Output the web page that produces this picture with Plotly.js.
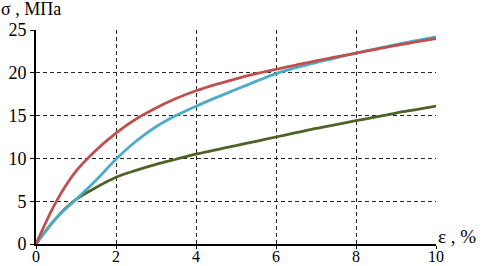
<!DOCTYPE html>
<html>
<head>
<meta charset="utf-8">
<script src="https://cdn.plot.ly/plotly-3.0.1.min.js"></script>
<style>
html,body{margin:0;padding:0;background:#fff;}
#chart{width:486px;height:266px;}
</style>
</head>
<body>
<div id="chart"></div>
<script>
const strain    = [0, 0.5, 1, 1.5, 2, 2.5, 3, 3.5, 4, 4.5, 5, 5.5, 6, 6.5, 7, 7.5, 8, 8.5, 9, 9.5, 10];
const stressRed   = [0, 4.9, 8.5, 10.95, 12.95, 14.6, 15.9, 17.0, 17.9, 18.65, 19.3, 19.9, 20.4, 20.9, 21.4, 21.85, 22.3, 22.75, 23.2, 23.6, 24.0];
const stressCyan  = [0, 3.0, 5.2, 7.45, 9.9, 12.0, 13.7, 15.0, 16.1, 17.1, 18.05, 19.0, 19.9, 20.6, 21.2, 21.75, 22.3, 22.8, 23.3, 23.75, 24.2];
const stressGreen = [0, 3.0, 5.2, 6.6, 7.8, 8.6, 9.3, 9.9, 10.5, 11.0, 11.5, 12.0, 12.5, 13.0, 13.5, 13.95, 14.4, 14.85, 15.3, 15.7, 16.1];
const xTicks = [0, 2, 4, 6, 8, 10];
const yTicks = [0, 5, 10, 15, 20, 25];

const fam = '"Liberation Serif", "Times New Roman", serif';
const font = {family: fam, size: 18, color: '#000'};
const traces = [
  {x: strain, y: stressGreen, mode: 'lines', line: {color: '#4f6228', width: 2.8, shape: 'spline'}},
  {x: strain, y: stressCyan, mode: 'lines', line: {color: '#4bacc6', width: 2.8, shape: 'spline'}},
  {x: strain, y: stressRed, mode: 'lines', line: {color: '#c0504d', width: 2.8, shape: 'spline'}}
];
const layout = {
  width: 486, height: 266,
  margin: {l: 36, r: 50, t: 30, b: 22},
  paper_bgcolor: '#fff', plot_bgcolor: '#fff',
  showlegend: false,
  font: font,
  xaxis: {
    range: [0, 10], tickvals: xTicks, ticktext: xTicks.map(String),
    showgrid: true, gridcolor: '#222', gridwidth: 1, griddash: '4px,3px',
    zeroline: false, showline: true, linecolor: '#000', linewidth: 1.5,
    ticks: 'outside', ticklen: 3, tickcolor: '#000', ticklabelstandoff: -6,
    tickfont: {family: fam, size: 16, color: '#000'}
  },
  yaxis: {
    range: [0, 25], tickvals: yTicks, ticktext: yTicks.map(String),
    showgrid: true, gridcolor: '#222', gridwidth: 1, griddash: '4px,3px',
    zeroline: false, showline: true, linecolor: '#000', linewidth: 2,
    ticks: 'outside', ticklen: 4, tickcolor: '#000', tickfont: font
  },
  annotations: [
    {text: 'σ , МПа', xref: 'paper', yref: 'paper', x: 0, y: 1, xshift: -37, yshift: 21,
     xanchor: 'left', yanchor: 'middle', showarrow: false, font: {family: fam, size: 18, color: '#000'}},
    {text: 'ε , %', xref: 'paper', yref: 'paper', x: 1, y: 0, xshift: 0, yshift: 8,
     xanchor: 'left', yanchor: 'middle', showarrow: false, font: {family: fam, size: 19, color: '#000'}}
  ]
};
Plotly.newPlot('chart', traces, layout, {displayModeBar: false, staticPlot: true});
</script>
</body>
</html>
